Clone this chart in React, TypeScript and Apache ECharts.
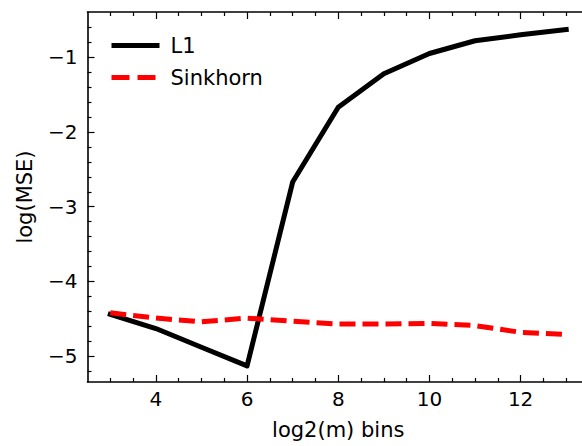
import React, { useEffect, useRef } from "react";
import * as echarts from "echarts";

const bins = [3, 4, 5, 6, 7, 8, 9, 10, 11, 12, 13];
const l1Values = [-4.44, -4.63, -4.88, -5.13, -2.67, -1.67, -1.22, -0.95, -0.78, -0.7, -0.63];
const sinkhornValues = [-4.42, -4.49, -4.54, -4.49, -4.53, -4.57, -4.57, -4.56, -4.59, -4.68, -4.71];

const xMajorTicks = [4, 6, 8, 10, 12];
const xMinorTicks = [3, 3.5, 4.5, 5, 5.5, 6.5, 7, 7.5, 8.5, 9, 9.5, 10.5, 11, 11.5, 12.5, 13];
const yMajorTicks = [-5, -4, -3, -2, -1];
const yMinorTicks = [
  -5.2, -4.8, -4.6, -4.4, -4.2, -3.8, -3.6, -3.4, -3.2, -2.8, -2.6, -2.4, -2.2,
  -1.8, -1.6, -1.4, -1.2, -0.8, -0.6,
];

const FONT = "DejaVu Sans";
const FS = 20;
const FS_NAME = 21;
const X_MIN = 2.5;
const X_MAX = 13.5;
const Y_MIN = -5.345;
const Y_MAX = -0.395;

function tickAxis(
  kind: "x" | "y",
  position: string,
  values: number[],
  len: number,
  showLine: boolean,
  labels: boolean
): any {
  return {
    type: "value",
    position,
    min: kind === "x" ? X_MIN : Y_MIN,
    max: kind === "x" ? X_MAX : Y_MAX,
    splitLine: { show: false },
    axisLine: { show: showLine, onZero: false, lineStyle: { color: "#000", width: 1.6 } },
    axisTick: {
      show: true,
      inside: true,
      length: len,
      customValues: values,
      lineStyle: { color: "#000", width: 1.2 },
    },
    axisLabel: labels
      ? {
          show: true,
          customValues: values,
          color: "#000",
          fontSize: FS,
          fontFamily: FONT,
          margin: kind === "x" ? 7 : 10,
          formatter: (v: number) => String(v).replace("-", "\u2212"),
        }
      : { show: false },
  };
}

export default function App() {
  const ref = useRef<HTMLDivElement>(null);
  useEffect(() => {
    if (!ref.current) return;
    const chart = echarts.init(ref.current, undefined, { renderer: "svg" });
    const xBottom = tickAxis("x", "bottom", xMajorTicks, 7, true, true);
    xBottom.name = "log2(m) bins";
    xBottom.nameLocation = "middle";
    xBottom.nameGap = 37;
    xBottom.nameTextStyle = { fontSize: FS_NAME, fontFamily: FONT, color: "#000" };
    const yLeft = tickAxis("y", "left", yMajorTicks, 7, true, true);
    yLeft.name = "log(MSE)";
    yLeft.nameLocation = "middle";
    yLeft.nameGap = 52;
    yLeft.nameTextStyle = { fontSize: FS_NAME, fontFamily: FONT, color: "#000" };

    chart.setOption({
      animation: false,
      backgroundColor: "#fff",
      grid: { left: 87.5, top: 12, width: 501.5, bottom: 64, containLabel: false },
      legend: {
        orient: "vertical",
        left: 104,
        top: 30,
        itemWidth: 48,
        itemHeight: 14,
        itemGap: 11,
        itemStyle: { color: "transparent", borderWidth: 0, opacity: 0 },
        textStyle: { fontSize: FS_NAME, fontFamily: FONT, color: "#000", padding: [0, 0, 0, 6] },
        data: [
          { name: "L1", lineStyle: { color: "#000", width: 5, type: "solid", cap: "butt" } },
          { name: "Sinkhorn", lineStyle: { color: "#ff0000", width: 5, type: [18, 8], cap: "butt" } },
        ],
      },
      xAxis: [
        xBottom,
        tickAxis("x", "bottom", xMinorTicks, 4, false, false),
        tickAxis("x", "top", xMajorTicks, 7, true, false),
        tickAxis("x", "top", xMinorTicks, 4, false, false),
      ],
      yAxis: [
        yLeft,
        tickAxis("y", "left", yMinorTicks, 4, false, false),
        tickAxis("y", "right", yMajorTicks, 7, true, false),
        tickAxis("y", "right", yMinorTicks, 4, false, false),
      ],
      series: [
        {
          name: "L1",
          type: "line",
          xAxisIndex: 0,
          yAxisIndex: 0,
          symbol: "none",
          data: bins.map((b, i) => [b, l1Values[i]]),
          lineStyle: { color: "#000", width: 5, cap: "square", join: "round" },
          itemStyle: { color: "#000" },
        },
        {
          name: "Sinkhorn",
          type: "line",
          xAxisIndex: 0,
          yAxisIndex: 0,
          symbol: "none",
          data: bins.map((b, i) => [b, sinkhornValues[i]]),
          lineStyle: { color: "#ff0000", width: 5, type: [16, 7], cap: "butt", join: "round" },
          itemStyle: { color: "#ff0000" },
        },
      ],
    });
    return () => chart.dispose();
  }, []);
  return (
    <div style={{ position: "absolute", left: 0, top: 0, width: 582, height: 446, overflow: "hidden" }}>
      <div ref={ref} style={{ width: 600, height: 446 }} />
    </div>
  );
}
